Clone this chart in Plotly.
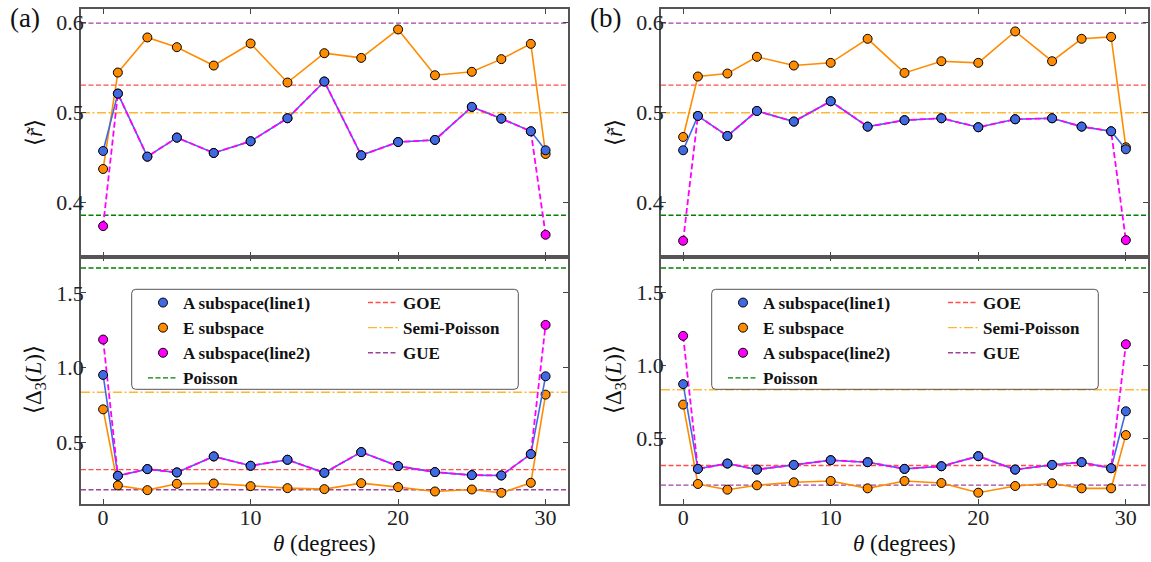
import plotly.graph_objects as go

# ---------------- data ----------------
theta = [0, 1, 3, 5, 7.5, 10, 12.5, 15, 17.5, 20, 22.5, 25, 27, 29, 30]

# panel (a), <r~>
r_A1_a = [0.4575, 0.5213, 0.4512, 0.4724, 0.4553, 0.4683, 0.4939, 0.5347, 0.4527, 0.4675, 0.4698, 0.5065, 0.4935, 0.4794, 0.4583]
r_E_a = [0.4375, 0.5447, 0.5837, 0.5729, 0.5525, 0.5770, 0.5336, 0.5662, 0.5610, 0.5926, 0.5417, 0.5455, 0.5596, 0.5766, 0.4542]
r_A2_a = [0.3740, 0.5213, 0.4512, 0.4724, 0.4553, 0.4683, 0.4939, 0.5347, 0.4527, 0.4675, 0.4698, 0.5065, 0.4935, 0.4794, 0.3644]
# panel (a), <Delta3(L)>
d_A1_a = [0.9497, 0.2740, 0.3188, 0.2964, 0.4038, 0.3412, 0.3814, 0.2942, 0.4329, 0.3389, 0.2987, 0.2785, 0.2763, 0.4195, 0.9407]
d_E_a = [0.7192, 0.2092, 0.1779, 0.2204, 0.2226, 0.2047, 0.1913, 0.1846, 0.2248, 0.1980, 0.1689, 0.1823, 0.1600, 0.2271, 0.8177]
d_A2_a = [1.1868, 0.2740, 0.3188, 0.2964, 0.4038, 0.3412, 0.3814, 0.2942, 0.4329, 0.3389, 0.2987, 0.2785, 0.2763, 0.4195, 1.2852]

# panel (b), <r~>
r_A1_b = [0.4583, 0.4965, 0.4742, 0.5020, 0.4902, 0.5128, 0.4846, 0.4917, 0.4939, 0.4839, 0.4928, 0.4939, 0.4846, 0.4794, 0.4594]
r_E_b = [0.4731, 0.5403, 0.5436, 0.5622, 0.5525, 0.5555, 0.5822, 0.5443, 0.5573, 0.5555, 0.5904, 0.5573, 0.5822, 0.5844, 0.4616]
r_A2_b = [0.3577, 0.4965, 0.4742, 0.5020, 0.4902, 0.5128, 0.4846, 0.4917, 0.4939, 0.4839, 0.4928, 0.4939, 0.4846, 0.4794, 0.3584]
# panel (b), <Delta3(L)>
d_A1_b = [0.8716, 0.2913, 0.3280, 0.2867, 0.3188, 0.3509, 0.3372, 0.2913, 0.3096, 0.3784, 0.2867, 0.3188, 0.3372, 0.2959, 0.6858]
d_E_b = [0.7317, 0.1881, 0.1491, 0.1789, 0.1995, 0.2087, 0.1583, 0.2087, 0.1950, 0.1284, 0.1743, 0.1927, 0.1583, 0.1583, 0.5230]
d_A2_b = [1.2018, 0.2913, 0.3280, 0.2867, 0.3188, 0.3509, 0.3372, 0.2913, 0.3096, 0.3784, 0.2867, 0.3188, 0.3372, 0.2959, 1.1445]

# reference values: Poisson, GOE, Semi-Poisson, GUE
ref_names = ["Poisson", "GOE", "Semi-Poisson", "GUE"]
ref_r = [0.386, 0.5307, 0.5, 0.5996]
ref_d = [1.6667, 0.315, 0.8333, 0.18]

x_ticks = [0, 10, 20, 30]
r_ticks = [0.4, 0.5, 0.6]
d_ticks = [0.5, 1.0, 1.5]

# ---------------- style ----------------
W, H = 1151, 562
FONT = "Liberation Serif"
C_A1 = "#4169E1"
C_E = "#FF8C00"
C_A2 = "#FF00FF"
REF_STYLE = {
    "Poisson": dict(color="green", dash="5px,2.5px"),
    "GOE": dict(color="rgba(255,0,0,0.7)", dash="5px,2.5px"),
    "Semi-Poisson": dict(color="rgba(255,165,0,0.8)", dash="9px,2.5px,2px,2.5px"),
    "GUE": dict(color="rgba(128,0,128,0.75)", dash="5px,2.5px"),
}
XR = [-1.5, 31.5]


def px(p):
    return p / W


def py(p):
    return 1 - p / H


fig = go.Figure()

panels = [
    ("x", "y", r_A1_a, r_E_a, r_A2_a, ref_r, None, None),
    ("x2", "y2", d_A1_a, d_E_a, d_A2_a, ref_d, "legend", "legend2"),
    ("x3", "y3", r_A1_b, r_E_b, r_A2_b, ref_r, None, None),
    ("x4", "y4", d_A1_b, d_E_b, d_A2_b, ref_d, "legend3", "legend4"),
]

for xa, ya, A1, E, A2, refs, leg1, leg2 in panels:
    show = leg1 is not None
    for name, val in zip(ref_names, refs):
        st = REF_STYLE[name]
        leg = leg1 if name == "Poisson" else leg2
        rank = {"Poisson": 4, "GOE": 1, "Semi-Poisson": 2, "GUE": 3}[name]
        fig.add_trace(go.Scatter(
            x=XR, y=[val, val], mode="lines", name=name,
            line=dict(color=st["color"], dash=st["dash"], width=1.4),
            xaxis=xa, yaxis=ya, showlegend=show, legend=leg if show else None,
            legendrank=rank, hoverinfo="skip"))
    fig.add_trace(go.Scatter(x=theta, y=E, mode="lines", line=dict(color=C_E, width=1.6),
                             xaxis=xa, yaxis=ya, showlegend=False))
    fig.add_trace(go.Scatter(x=theta, y=E, mode="markers", name="E subspace",
                             marker=dict(color=C_E, size=9, line=dict(color="black", width=1)),
                             xaxis=xa, yaxis=ya, showlegend=show, legend=leg1 if show else None,
                             legendrank=2))
    fig.add_trace(go.Scatter(x=theta, y=A1, mode="lines", line=dict(color=C_A1, width=1.6),
                             xaxis=xa, yaxis=ya, showlegend=False))
    fig.add_trace(go.Scatter(x=theta, y=A2, mode="lines", line=dict(color=C_A2, width=1.8, dash="6px,3px"),
                             xaxis=xa, yaxis=ya, showlegend=False))
    fig.add_trace(go.Scatter(x=theta, y=A2, mode="markers", name="A subspace(line2)",
                             marker=dict(color=C_A2, size=9, line=dict(color="black", width=1)),
                             xaxis=xa, yaxis=ya, showlegend=show, legend=leg1 if show else None,
                             legendrank=3))
    fig.add_trace(go.Scatter(x=theta, y=A1, mode="markers", name="A subspace(line1)",
                             marker=dict(color=C_A1, size=9, line=dict(color="black", width=1)),
                             xaxis=xa, yaxis=ya, showlegend=show, legend=leg1 if show else None,
                             legendrank=1))

# ---------------- axes ----------------
L_X = [px(81), px(567.7)]
R_X = [px(661), px(1148)]
TOP_Y = [py(256.7), py(9.3)]
BOT_Y = [py(504), py(256.7)]

axis_common = dict(showgrid=False, zeroline=False, ticks="inside", ticklen=5, tickwidth=1,
                   tickcolor="#444", showline=True, linecolor="#555", linewidth=1.5,
                   mirror="ticks", tickfont=dict(family=FONT, size=22, color="#222"))
XSO = -7
YSO = -9

fig.update_layout(
    xaxis=dict(domain=L_X, anchor="y", range=XR, tickvals=x_ticks, showticklabels=False, **axis_common),
    yaxis=dict(domain=TOP_Y, anchor="x", range=[0.34, 0.615], tickvals=r_ticks,
               ticktext=[f"{v:.1f}" for v in r_ticks], ticklabelstandoff=YSO, **axis_common),
    xaxis2=dict(domain=L_X, anchor="y2", range=XR, tickvals=x_ticks, ticklabelstandoff=XSO, **axis_common),
    yaxis2=dict(domain=BOT_Y, anchor="x2", range=[0.085, 1.742], tickvals=d_ticks,
                ticktext=[f"{v:.1f}" for v in d_ticks], ticklabelstandoff=YSO, **axis_common),
    xaxis3=dict(domain=R_X, anchor="y3", range=XR, tickvals=x_ticks, showticklabels=False, **axis_common),
    yaxis3=dict(domain=TOP_Y, anchor="x3", range=[0.34, 0.615], tickvals=r_ticks,
                ticktext=[f"{v:.1f}" for v in r_ticks], ticklabelstandoff=YSO, **axis_common),
    xaxis4=dict(domain=R_X, anchor="y4", range=XR, tickvals=x_ticks, ticklabelstandoff=XSO, **axis_common),
    yaxis4=dict(domain=BOT_Y, anchor="x4", range=[0.051, 1.744], tickvals=d_ticks,
                ticktext=[f"{v:.1f}" for v in d_ticks], ticklabelstandoff=YSO, **axis_common),
)

# ---------------- legends ----------------
leg_common = dict(bgcolor="rgba(0,0,0,0)", borderwidth=0, xanchor="left", yanchor="top",
                  traceorder="normal", tracegroupgap=0,
                  font=dict(family=FONT, size=17, color="#111", weight="bold"))
LEG_TOP = 285
fig.update_layout(
    legend=dict(x=px(143), y=py(LEG_TOP), **leg_common),
    legend2=dict(x=px(363), y=py(LEG_TOP), **leg_common),
    legend3=dict(x=px(143 + 580), y=py(LEG_TOP), **leg_common),
    legend4=dict(x=px(363 + 580), y=py(LEG_TOP), **leg_common),
)


def rounded_rect(x0, y0, x1, y1, r=4):
    rx, ry = r / W, r / H
    X0, X1 = px(x0), px(x1)
    Y0, Y1 = py(y1), py(y0)
    return (f"M {X0+rx},{Y1} L {X1-rx},{Y1} Q {X1},{Y1} {X1},{Y1-ry} "
            f"L {X1},{Y0+ry} Q {X1},{Y0} {X1-rx},{Y0} L {X0+rx},{Y0} "
            f"Q {X0},{Y0} {X0},{Y0+ry} L {X0},{Y1-ry} Q {X0},{Y1} {X0+rx},{Y1} Z")


shapes = []
for off in (0, 580):
    shapes.append(dict(type="path", xref="paper", yref="paper",
                       path=rounded_rect(131.7 + off, 289.3, 518.3 + off, 389.3),
                       line=dict(color="#555", width=1), fillcolor="rgba(255,255,255,0.85)",
                       layer="above"))

# ---------------- annotations ----------------
ann = []
title_font = dict(family=FONT, size=23, color="#111")
for off, lab in ((0, "(a)"), (580, "(b)")):
    common = dict(xref="paper", yref="paper", showarrow=False, xanchor="center", yanchor="middle")
    ann.append(dict(text=lab, x=px(25 + off), y=py(18), font=dict(family=FONT, size=27, color="#111"), **common))
    ann.append(dict(text="⟨<i>r̃</i>⟩", x=px(35 + off), y=py(133), textangle=-90, font=title_font, **common))
    ann.append(dict(text="⟨Δ<sub>3</sub>(<i>L</i>)⟩", x=px(35 + off), y=py(380), textangle=-90,
                    font=title_font, **common))
    ann.append(dict(text="<i>θ</i> (degrees)", x=px(324.4 + off), y=py(543), font=title_font, **common))

fig.update_layout(
    width=W, height=H, margin=dict(l=0, r=0, t=0, b=0),
    paper_bgcolor="white", plot_bgcolor="white",
    shapes=shapes, annotations=ann, showlegend=True,
)

fig.write_html("out.html")
